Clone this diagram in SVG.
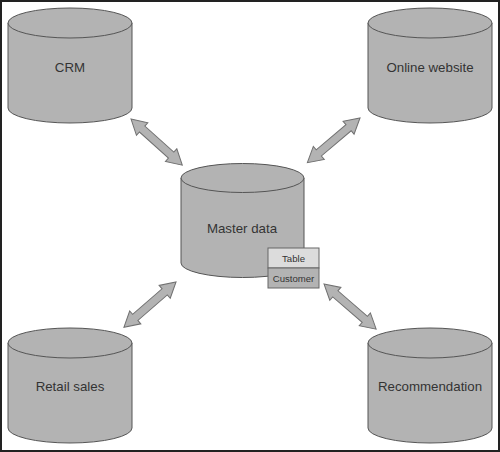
<svg xmlns="http://www.w3.org/2000/svg" xmlns:xlink="http://www.w3.org/1999/xlink" width="500" height="452" viewBox="0 0 500 452">
<style>
.cyl{fill:#b3b3b3;stroke:#555;stroke-width:1}
.lbl{font-family:"Liberation Sans",Arial,sans-serif;font-size:13.3px;fill:#333;text-anchor:middle}
.small{font-family:"Liberation Sans",Arial,sans-serif;font-size:9.6px;fill:#333;text-anchor:middle}
.arr{fill:#b3b3b3;stroke:#707070;stroke-width:1;stroke-linejoin:miter}
</style>
<defs>
<path id="dblarrow" d="M0,0 L15,-8.5 L15,-4 L54,-4 L54,-8.5 L69,0 L54,8.5 L54,4 L15,4 L15,8.5 Z"/>
</defs>
<rect x="1" y="1" width="498" height="450" fill="#fff" stroke="#222" stroke-width="2"/>
<g id="connectors">
<use xlink:href="#dblarrow" class="arr" transform="translate(131,119) rotate(42)"/>
<use xlink:href="#dblarrow" class="arr" transform="translate(360,118) rotate(139.7)"/>
<use xlink:href="#dblarrow" class="arr" transform="translate(176,282) rotate(139)"/>
<use xlink:href="#dblarrow" class="arr" transform="translate(324,284) rotate(40.9)"/>
</g>
<g id="crm">
<path class="cyl" d="M8,23 L8,108 A62,15 0 0 0 132,108 L132,23 Z"/>
<ellipse class="cyl" cx="70" cy="23" rx="62" ry="15"/>
<text class="lbl" x="70" y="72">CRM</text>
</g>
<g id="online">
<path class="cyl" d="M368,23 L368,108 A62,15 0 0 0 492,108 L492,23 Z"/>
<ellipse class="cyl" cx="430" cy="23" rx="62" ry="15"/>
<text class="lbl" x="430" y="72">Online website</text>
</g>
<g id="retail">
<path class="cyl" d="M8,343 L8,428 A62,15 0 0 0 132,428 L132,343 Z"/>
<ellipse class="cyl" cx="70" cy="343" rx="62" ry="15"/>
<text class="lbl" x="70" y="391">Retail sales</text>
</g>
<g id="recommendation">
<path class="cyl" d="M368,343 L368,428 A62,15 0 0 0 492,428 L492,343 Z"/>
<ellipse class="cyl" cx="430" cy="343" rx="62" ry="15"/>
<text class="lbl" x="430" y="391">Recommendation</text>
</g>
<g id="master">
<path class="cyl" d="M181,178 L181,263 A61.5,14.5 0 0 0 304,263 L304,178 Z"/>
<ellipse class="cyl" cx="242.5" cy="178" rx="61.5" ry="14.5"/>
<text class="lbl" x="242" y="233">Master data</text>
</g>
<g id="table">
<rect x="268" y="248" width="51" height="20" fill="#dcdcdc" stroke="#666" stroke-width="1"/>
<rect x="268" y="268" width="51" height="20" fill="#b3b3b3" stroke="#666" stroke-width="1"/>
<text class="small" x="293.5" y="262">Table</text>
<text class="small" x="293.5" y="281.5">Customer</text>
</g>
</svg>
